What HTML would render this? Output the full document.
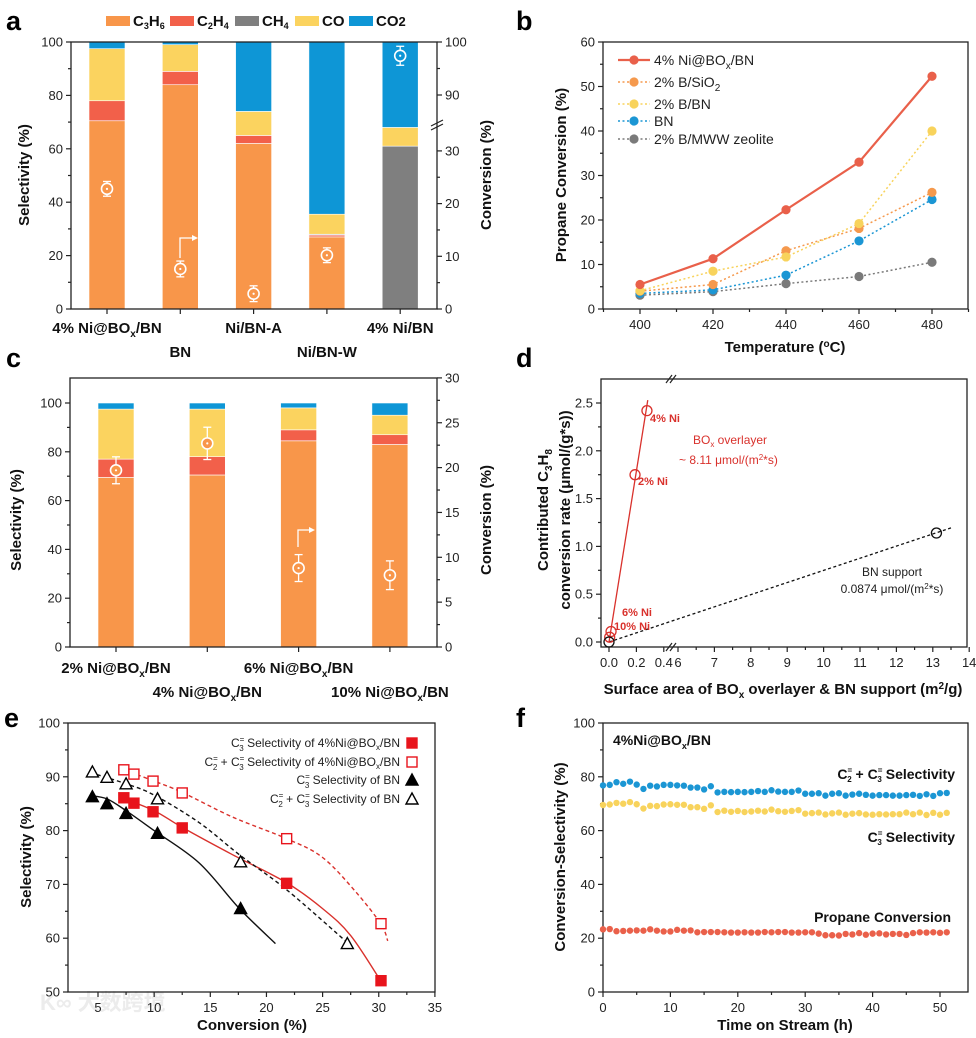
<!DOCTYPE html>
<html><head><meta charset="utf-8"><style>
html,body{margin:0;padding:0;background:#fff;}
svg{display:block;font-family:"Liberation Sans","Noto Sans CJK SC",sans-serif;}
.t{font-size:13px;fill:#222;}
.b{font-weight:bold;font-size:15px;fill:#111;}
.L{font-weight:bold;font-size:27px;fill:#000;}
</style></head><body>
<svg id="fig" width="976" height="1038" viewBox="0 0 976 1038" xmlns="http://www.w3.org/2000/svg">
<text class="L" x="6" y="30">a</text>
<text class="L" x="516" y="30">b</text>
<text class="L" x="6" y="367">c</text>
<text class="L" x="516" y="367">d</text>
<text class="L" x="4" y="727">e</text>
<text class="L" x="516" y="727">f</text>
<text x="40" y="1010" style="font-size:22px;fill:#ececec;font-weight:bold">K∞ 大数跨境</text>
</svg>
<script>
// ---------- data ----------
const catsA=["4% Ni@BOx/BN","BN","Ni/BN-A","Ni/BN-W","4% Ni/BN"];
const c3h6A=[70.5,84,62,27,0];
const c2h4A=[7.5,5,3,0.7,0];
const ch4A=[0,0,0,0.3,61];
const coA=[19.5,10,9,7.5,7];
const co2A=[2.5,1,26,64.5,32];
const convA=[22.8,7.6,2.9,10.2,97.4];
const errA=[1.4,1.5,1.5,1.4,1.8];
const catsC=["2% Ni@BOx/BN","4% Ni@BOx/BN","6% Ni@BOx/BN","10% Ni@BOx/BN"];
const c3h6C=[69.5,70.5,84.5,83];
const c2h4C=[7.5,7.5,4.5,4];
const coC=[20.5,19.5,9,8];
const co2C=[2.5,2.5,2,5];
const convC=[19.7,22.7,8.8,8.0];
const errC=[1.5,1.8,1.5,1.6];
const tempsB=[400,420,440,460,480];
const niB=[5.5,11.3,22.3,33,52.3];
const bsio2B=[4,5.5,13.1,18.1,26.2];
const bbnB=[4.1,8.5,11.7,19.2,40];
const bnB=[3.5,4.3,7.6,15.3,24.6];
const mwwB=[3.1,3.9,5.7,7.3,10.5];
const redPtsDx=[0.277,0.19,0.015,0.005];
const redPtsDy=[2.42,1.75,0.11,0.05];
const redLineDx=[0,0.283];
const redLineDy=[0,2.53];
const blkPtsDx=[0,13.1];
const blkPtsDy=[0,1.14];
const blkLineDx=[0,13.55];
const blkLineDy=[0,1.2];
const e1x=[7.3,8.2,9.9,12.5,21.8,30.2], e1y=[86.1,85.1,83.5,80.5,70.2,52.1];
const e2x=[7.3,8.2,9.9,12.5,21.8,30.2], e2y=[91.3,90.5,89.2,87,78.5,62.7];
const e3x=[4.5,5.8,7.5,10.3,17.7], e3y=[86.3,85,83.2,79.5,65.5];
const e4x=[4.5,5.8,7.5,10.3,17.7,27.2], e4y=[90.9,89.9,88.7,85.9,74.2,59];
const f1x=[7,10,12.5,17,21.8,25,27.5,30.2], f1y=[86.2,83.7,80.6,75.5,70.3,65.5,60.5,52];
const f2x=[7.3,10,12.5,17,21.8,25,28,30.2,30.8], f2y=[91.3,89.2,87.1,82.5,78.5,75,68.5,62.6,59.5];
const f3x=[4.3,5.8,7.5,10,14,17.6,20.8], f3y=[86.5,85.9,83.7,80,74,65.5,59];
const f4x=[4.3,7.5,10,14,17.6,21.8,27.3], f4y=[90.8,88.7,86.6,81.5,75.5,69,59];
const timeF=[0,1,2,3,4,5,6,7,8,9,10,11,12,13,14,15,16,17,18,19,20,21,22,23,24,25,26,27,28,29,30,31,32,33,34,35,36,37,38,39,40,41,42,43,44,45,46,47,48,49,50,51];
const selC2C3=[76.8,77,78,77.4,78.2,77.1,75.5,76.7,76.4,77,77,76.8,76.7,76,76,75.3,76.5,74.2,74.4,74.3,74.4,74.3,74.4,74.7,74.4,75,74.5,74.4,74.4,74.9,73.7,73.7,73.9,73,73.7,73.9,73,73.4,73.7,73.3,73,73.2,73.2,73,73,73.2,73.3,72.9,73.5,72.9,73.9,74];
const selC3=[69.5,69.7,70.3,70,70.6,69.8,68.2,69.2,69.1,69.7,69.8,69.6,69.6,68.7,68.7,68.1,69.4,66.9,67.4,67,67.3,66.9,67.1,67.4,67.1,67.8,67.2,67,67.3,67.6,66.3,66.5,66.7,66,66.4,66.7,65.9,66.3,66.5,66,65.9,66.1,66,66.1,66.1,66.7,66.1,66.7,65.8,66.6,65.9,66.6];
const convF=[23.3,23.4,22.6,22.7,22.8,22.9,22.8,23.3,22.8,22.5,22.5,23.1,22.8,22.9,22.2,22.3,22.3,22.3,22.2,22.1,22.1,22.2,22.1,22.1,22.3,22.2,22.3,22.3,22.1,22.1,22.2,22.2,21.7,21.1,21.1,21,21.6,21.4,21.9,21.3,21.7,21.8,21.4,21.6,21.6,21.2,21.9,22.2,22.1,22.2,22.0,22.2];

// ---------- scales ----------
const ya=v=>309-v*2.67;
const yca=v=>v<=50?309-v*5.27:42+(100-v)*5.3;
const xa=i=>107+i*73.3;
const yc=v=>647-v*2.44;
const ycc=v=>647-v*8.97;
const xc=i=>116+i*91.3;
const xb=t=>640+(t-400)*3.65;
const yb=v=>309-v*4.45;
const xd=v=>v<1?609+v*137:678+(v-6)*36.4;
const yd=v=>642-v*95.6;
const xe=v=>98+(v-5)*11.23;
const ye=v=>992-(v-50)*5.38;
const xf=v=>603+v*6.74;
const yf=v=>992-v*2.69;

const NS="http://www.w3.org/2000/svg";
const svg=document.getElementById('fig');
function mk(tag,attrs,txt){const e=document.createElementNS(NS,tag);for(const k in attrs)e.setAttribute(k,attrs[k]);if(txt!==undefined)e.textContent=txt;svg.appendChild(e);return e;}
const COL={c3h6:"#f8964a",c2h4:"#f2604a",ch4:"#7f7f7f",co:"#fbd35f",co2:"#0e96d6"};

function frame(x0,y0,x1,y1,name){
  let e=mk('rect',{x:x0,y:y0,width:x1-x0,height:y1-y0,fill:'none',stroke:'#222','stroke-width':1.3});
  
  
}
function ytick(x,y,label,side,name,len){
  len=len||5;
  const dx=side==='L'?-len:len;
  let l=mk('line',{x1:x,y1:y,x2:x+dx,y2:y,stroke:'#222','stroke-width':1.2});
  
  
  if(label!==null){
    let t=mk('text',{class:'t',x:side==='L'?x-8:x+8,y:y+4.5,'text-anchor':side==='L'?'end':'start'},label);
    
    
  }
}
function xtick(x,y,label,name,len){
  len=len||5;
  let l=mk('line',{x1:x,y1:y,x2:x,y2:y+len,stroke:'#222','stroke-width':1.2});
  
  
  if(label!==null){
    let t=mk('text',{class:'t',x:x,y:y+20,'text-anchor':'middle'},label);
    
    
  }
}
function vtitle(x,y,txt,name){
  let t=mk('text',{class:'b',x:x,y:y,'text-anchor':'middle',transform:`rotate(-90 ${x} ${y})`});
  t.innerHTML=txt;
  
  
  return t;
}
function htitle(x,y,txt,name,cls){
  let t=mk('text',{class:cls||'b',x:x,y:y,'text-anchor':'middle'});
  t.innerHTML=txt;
  
  
  return t;
}
function convMarker(x,y,err,scale,name,fill){
  let g=mk('g',{});
  
  
  const y1=y-err*scale, y2=y+err*scale;
  [{x1:x,y1:y1,x2:x,y2:y2},{x1:x-4,y1:y1,x2:x+4,y2:y1},{x1:x-4,y1:y2,x2:x+4,y2:y2}].forEach(a=>{const e=document.createElementNS(NS,'line');for(const k in a)e.setAttribute(k,a[k]);e.setAttribute('stroke','#fff');e.setAttribute('stroke-width',1.3);g.appendChild(e);});
  const ci=document.createElementNS(NS,'circle');ci.setAttribute('cx',x);ci.setAttribute('cy',y);ci.setAttribute('r',5.5);ci.setAttribute('fill',fill||'#f8964a');ci.setAttribute('stroke','#fff');ci.setAttribute('stroke-width',1.6);g.appendChild(ci);
  const d=document.createElementNS(NS,'circle');d.setAttribute('cx',x);d.setAttribute('cy',y);d.setAttribute('r',1.1);d.setAttribute('fill','#fff');g.appendChild(d);
}

// ---------- panel a ----------
(function(){
  const keys=[["c3h6",c3h6A],["c2h4",c2h4A],["ch4",ch4A],["co",coA],["co2",co2A]];
  catsA.forEach((c,i)=>{
    let base=0;
    keys.forEach(([k,arr])=>{
      const v=arr[i]; if(v<=0)return;
      let r=mk('rect',{x:xa(i)-18,y:ya(base+v),width:36,height:ya(base)-ya(base+v),fill:COL[k],stroke:'#fff','stroke-width':0.6});
      
      
      base+=v;
    });
  });
  catsA.forEach((c,i)=>{
    convMarker(xa(i),yca(convA[i]),errA[i],5.27,'conversion-marker-a-'+i,i===4?COL.co2:COL.c3h6);
  });
  let ar=mk('path',{d:'M180 258 V238 H194',fill:'none',stroke:'#fff','stroke-width':1.3});
  
  
  let ah=mk('path',{d:'M192 235 L198 238 L192 241 Z',fill:'#fff'});
  
  
  frame(71,42,437,309,'plot-frame-a');
  [0,20,40,60,80,100].forEach(v=>ytick(71,ya(v),String(v),'L','y-axis-a'));
  [10,30,50,70,90].forEach(v=>ytick(71,ya(v),null,'L','y-minor-a',3));
  [0,10,20,30].forEach(v=>ytick(437,yca(v),String(v),'R','y2-axis-a'));
  [90,100].forEach(v=>ytick(437,yca(v),String(v),'R','y2-axis-a'));
  [5,15,25,95].forEach(v=>ytick(437,yca(v),null,'R','y2-minor-a',3));
  let bk=mk('path',{d:'M431 126 L443 120 M431 130 L443 124',stroke:'#222','stroke-width':1.2});
  
  
  catsA.forEach((c,i)=>xtick(xa(i),309,null,'x-axis-a'));
  const lab=['4% Ni@BO<tspan font-size="10" dy="4">x</tspan><tspan dy="-4">/BN</tspan>','BN','Ni/BN-A','Ni/BN-W','4% Ni/BN'];
  lab.forEach((t,i)=>htitle(xa(i),i%2===0?333:357,t,'x-label-a-'+i));
  vtitle(29,175,'Selectivity (%)','y-axis-title-a');
  vtitle(491,175,'Conversion (%)','y2-axis-title-a');
  const lg=[["c3h6",106,'C<tspan font-size="9" dy="3">3</tspan><tspan dy="-3">H</tspan><tspan font-size="9" dy="3">6</tspan>'],["c2h4",170,'C<tspan font-size="9" dy="3">2</tspan><tspan dy="-3">H</tspan><tspan font-size="9" dy="3">4</tspan>'],["ch4",235,'CH<tspan font-size="9" dy="3">4</tspan>'],["co",295,'CO'],["co2",349,'CO<tspan font-size="13">2</tspan>']];
  lg.forEach(([k,x,t])=>{
    let s=mk('rect',{x:x,y:16,width:24,height:10,fill:COL[k]});
    
    
    let tx=mk('text',{class:'b',x:x+27,y:26,'font-size':'15'});
    tx.innerHTML=t;
    
    
  });
})();

// ---------- panel b ----------
(function(){
  frame(603,42,968,309,'plot-frame-b');
  [0,10,20,30,40,50,60].forEach(v=>ytick(603,yb(v),String(v),'L','y-axis-b'));
  [5,15,25,35,45,55].forEach(v=>ytick(603,yb(v),null,'L','y-minor-b',3));
  tempsB.forEach(t=>xtick(xb(t),309,String(t),'x-axis-b'));
  [390,410,430,450,470,490].forEach(t=>xtick(xb(t),309,null,'x-minor-b',3));
  const ser=[["mww",mwwB,"#7a7a7a",true],["bn",bnB,"#1b96d4",true],["bsio2",bsio2B,"#f5994d",true],["bbn",bbnB,"#f8d35c",true],["ni",niB,"#e9604a",false]];
  ser.forEach(([n,arr,col,dot])=>{
    let p=mk('polyline',{points:tempsB.map((t,i)=>xb(t)+','+yb(arr[i])).join(' '),fill:'none',stroke:col,'stroke-width':dot?1.5:2.2,'stroke-dasharray':dot?'2 2.5':'none'});
    
    
    tempsB.forEach((t,i)=>{
      let c=mk('circle',{cx:xb(t),cy:yb(arr[i]),r:4.6,fill:col});
      
      
    });
  });
  const lg=[["ni","#e9604a",false,'4% Ni@BO<tspan font-size="10" dy="4">x</tspan><tspan dy="-4">/BN</tspan>',60],["bsio2","#f5994d",true,'2% B/SiO<tspan font-size="10" dy="4">2</tspan>',82],["bbn","#f8d35c",true,'2% B/BN',104],["bn","#1b96d4",true,'BN',121],["mww","#7a7a7a",true,'2% B/MWW zeolite',139]];
  lg.forEach(([n,col,dot,t,y])=>{
    let l=mk('line',{x1:618,y1:y,x2:650,y2:y,stroke:col,'stroke-width':dot?1.5:2.2,'stroke-dasharray':dot?'2 2.5':'none'});
    
    
    let c=mk('circle',{cx:634,cy:y,r:4.6,fill:col});
    
    
    let tx=mk('text',{x:654,y:y+5,'font-size':'14',fill:'#222'});
    tx.innerHTML=t;
    
    
  });
  vtitle(566,175,'Propane Conversion (%)','y-axis-title-b');
  htitle(785,352,'Temperature (<tspan font-size="10" dy="-5">o</tspan><tspan dy="5">C)</tspan>','x-axis-title-b');
})();

// ---------- panel c ----------
(function(){
  const keys=[["c3h6",c3h6C],["c2h4",c2h4C],["co",coC],["co2",co2C]];
  catsC.forEach((c,i)=>{
    let base=0;
    keys.forEach(([k,arr])=>{
      const v=arr[i];
      let r=mk('rect',{x:xc(i)-18,y:yc(base+v),width:36,height:yc(base)-yc(base+v),fill:COL[k],stroke:'#fff','stroke-width':0.6});
      
      
      base+=v;
    });
  });
  catsC.forEach((c,i)=>convMarker(xc(i),ycc(convC[i]),errC[i],8.97,'conversion-marker-c-'+i));
  let ar=mk('path',{d:'M298 547 V530 H310',fill:'none',stroke:'#fff','stroke-width':1.3});
  
  
  let ah=mk('path',{d:'M309 527 L315 530 L309 533 Z',fill:'#fff'});
  
  
  frame(70,378,437,647,'plot-frame-c');
  [0,20,40,60,80,100].forEach(v=>ytick(70,yc(v),String(v),'L','y-axis-c'));
  [10,30,50,70,90].forEach(v=>ytick(70,yc(v),null,'L','y-minor-c',3));
  [0,5,10,15,20,25,30].forEach(v=>ytick(437,ycc(v),String(v),'R','y2-axis-c'));
  [2.5,7.5,12.5,17.5,22.5,27.5].forEach(v=>ytick(437,ycc(v),null,'R','y2-minor-c',3));
  catsC.forEach((c,i)=>xtick(xc(i),647,null,'x-axis-c'));
  catsC.forEach((c,i)=>{
    const [p,s]=c.split('BOx');
    htitle(xc(i),i%2===0?673:697,p+'BO<tspan font-size="10" dy="4">x</tspan><tspan dy="-4">'+s+'</tspan>','x-label-c-'+i);
  });
  vtitle(21,520,'Selectivity (%)','y-axis-title-c');
  vtitle(491,520,'Conversion (%)','y2-axis-title-c');
})();

// ---------- panel d ----------
(function(){
  frame(601,379,967,647,'plot-frame-d');
  [0,0.5,1.0,1.5,2.0,2.5].forEach(v=>ytick(601,yd(v),v.toFixed(1),'L','y-axis-d'));
  [0.25,0.75,1.25,1.75,2.25].forEach(v=>ytick(601,yd(v),null,'L','y-minor-d',3));
  [0,0.2,0.4].forEach(v=>xtick(xd(v),647,v.toFixed(1),'x-axis-d'));
  [6,7,8,9,10,11,12,13,14].forEach(v=>xtick(xd(v),647,String(v),'x-axis-d'));
  [6.5,7.5,8.5,9.5,10.5,11.5,12.5,13.5].forEach(v=>xtick(xd(v),647,null,'x-minor-d',3));
  let bk=mk('path',{d:'M666 383 L672 375 M670 383 L676 375 M666 651 L672 643 M670 651 L676 643',stroke:'#222','stroke-width':1.2});
  
  
  let bl=mk('line',{x1:xd(blkLineDx[0]),y1:yd(blkLineDy[0]),x2:xd(blkLineDx[1]),y2:yd(blkLineDy[1]),stroke:'#111','stroke-width':1.3,'stroke-dasharray':'3 2.5'});
  
  
  let rl=mk('line',{x1:xd(redLineDx[0]),y1:yd(redLineDy[0]),x2:xd(redLineDx[1]),y2:yd(redLineDy[1]),stroke:'#d9312c','stroke-width':1.3});
  
  
  redPtsDx.forEach((x,i)=>{
    let c=mk('circle',{cx:xd(x),cy:yd(redPtsDy[i]),r:5,fill:'none',stroke:'#d9312c','stroke-width':1.3});
    
    
  });
  blkPtsDx.forEach((x,i)=>{
    let c=mk('circle',{cx:xd(x),cy:yd(blkPtsDy[i]),r:5,fill:'none',stroke:'#111','stroke-width':1.3});
    
    
  });
  const ann=[[650,422,'4% Ni','bold',11,'annotation-4ni'],[638,485,'2% Ni','bold',11,'annotation-2ni'],[622,616,'6% Ni','bold',11,'annotation-6ni'],[614,630,'10% Ni','bold',11,'annotation-10ni']];
  ann.forEach(([x,y,t,w,s,n])=>{
    let e=mk('text',{x:x,y:y,'font-size':s,'font-weight':w,fill:'#d9312c'},t);
    
    
  });
  let a1=mk('text',{x:693,y:444,'font-size':12,fill:'#d9312c'});
  a1.innerHTML='BO<tspan font-size="8" dy="3">x</tspan><tspan dy="-3"> overlayer</tspan>';
  
  
  let a2=mk('text',{x:679,y:464,'font-size':12,fill:'#d9312c'});
  a2.innerHTML='~ 8.11 μmol/(m<tspan font-size="8" dy="-4">2</tspan><tspan dy="4">*s)</tspan>';
  
  
  let a3=mk('text',{x:892,y:576,'font-size':12,fill:'#222','text-anchor':'middle'},'BN support');
  
  
  let a4=mk('text',{x:892,y:593,'font-size':12,fill:'#222','text-anchor':'middle'});
  a4.innerHTML='0.0874 μmol/(m<tspan font-size="8" dy="-4">2</tspan><tspan dy="4">*s)</tspan>';
  
  
  vtitle(548,510,'Contributed C<tspan font-size="10" dy="4">3</tspan><tspan dy="-4">H</tspan><tspan font-size="10" dy="4">8</tspan>','y-axis-title-d-line1');
  vtitle(570,510,'conversion rate (μmol/(g*s))','y-axis-title-d-line2');
  htitle(783,694,'Surface area of BO<tspan font-size="10" dy="4">x</tspan><tspan dy="-4"> overlayer &amp; BN support (m</tspan><tspan font-size="10" dy="-5">2</tspan><tspan dy="5">/g)</tspan>','x-axis-title-d');
})();

// ---------- panel e ----------
(function(){
  frame(68,723,435,992,'plot-frame-e');
  [50,60,70,80,90,100].forEach(v=>ytick(68,ye(v),String(v),'L','y-axis-e'));
  [55,65,75,85,95].forEach(v=>ytick(68,ye(v),null,'L','y-minor-e',3));
  [5,10,15,20,25,30,35].forEach(v=>xtick(xe(v),992,String(v),'x-axis-e'));
  [7.5,12.5,17.5,22.5,27.5,32.5].forEach(v=>xtick(xe(v),992,null,'x-minor-e',3));
  function smooth(xs,ys){
    const P=xs.map((x,i)=>[xe(x),ye(ys[i])]);
    let d='M'+P[0][0]+' '+P[0][1];
    for(let i=0;i<P.length-1;i++){
      const p0=P[i-1]||P[i],p1=P[i],p2=P[i+1],p3=P[i+2]||P[i+1];
      const c1=[p1[0]+(p2[0]-p0[0])/6,p1[1]+(p2[1]-p0[1])/6];
      const c2=[p2[0]-(p3[0]-p1[0])/6,p2[1]-(p3[1]-p1[1])/6];
      d+=` C${c1[0]} ${c1[1]} ${c2[0]} ${c2[1]} ${p2[0]} ${p2[1]}`;
    }
    return d;
  }
  const fits=[[f1x,f1y,'#d9312c','none','fit-curve-c3-ni'],[f2x,f2y,'#d9312c','4 3','fit-curve-c2c3-ni'],[f3x,f3y,'#111','none','fit-curve-c3-bn'],[f4x,f4y,'#111','4 3','fit-curve-c2c3-bn']];
  fits.forEach(([xs,ys,col,da,n])=>{
    let p=mk('path',{d:smooth(xs,ys),fill:'none',stroke:col,'stroke-width':1.4,'stroke-dasharray':da});
    
    
  });
  function sq(x,y,fill,n){let r=mk('rect',{x:x-5,y:y-5,width:10,height:10,fill:fill?'#e8141c':'#fff',stroke:'#e8141c','stroke-width':1.4});}
  function tri(x,y,fill,n){let p=mk('path',{d:`M${x} ${y-6} L${x+6} ${y+5} L${x-6} ${y+5} Z`,fill:fill?'#000':'#fff',stroke:'#000','stroke-width':1.4});}
  e1x.forEach((x,i)=>sq(xe(x),ye(e1y[i]),true,'point-c3-ni'));
  e2x.forEach((x,i)=>sq(xe(x),ye(e2y[i]),false,'point-c2c3-ni'));
  e3x.forEach((x,i)=>tri(xe(x),ye(e3y[i]),true,'point-c3-bn'));
  e4x.forEach((x,i)=>tri(xe(x),ye(e4y[i]),false,'point-c2c3-bn'));
  const sub=(a,b)=>`${a}<tspan font-size="8" dy="-5">=</tspan><tspan font-size="8" dx="-5" dy="9">${b}</tspan><tspan dy="-4"> </tspan>`;
  const lg=[[743,sub('C','3')+' Selectivity of  4%Ni@BO<tspan font-size="8" dy="3">x</tspan><tspan dy="-3">/BN</tspan>','sq',true],[762,sub('C','2')+'+ '+sub('C','3')+' Selectivity of 4%Ni@BO<tspan font-size="8" dy="3">x</tspan><tspan dy="-3">/BN</tspan>','sq',false],[780,sub('C','3')+' Selectivity of BN','tri',true],[799,sub('C','2')+'+ '+sub('C','3')+'  Selectivity of BN','tri',false]];
  lg.forEach(([y,t,m,f],i)=>{
    let tx=mk('text',{x:400,y:y+4,'font-size':12,fill:'#222','text-anchor':'end'});
    tx.innerHTML=t;
    
    
    if(m==='sq')sq(412,y,f,'legend-marker-e-'+i);else tri(412,y,f,'legend-marker-e-'+i);
  });
  vtitle(31,857,'Selectivity (%)','y-axis-title-e');
  htitle(252,1030,'Conversion (%)','x-axis-title-e');
})();

// ---------- panel f ----------
(function(){
  frame(603,723,968,992,'plot-frame-f');
  [0,20,40,60,80,100].forEach(v=>ytick(603,yf(v),String(v),'L','y-axis-f'));
  [10,30,50,70,90].forEach(v=>ytick(603,yf(v),null,'L','y-minor-f',3));
  [0,10,20,30,40,50].forEach(v=>xtick(xf(v),992,String(v),'x-axis-f'));
  [5,15,25,35,45].forEach(v=>xtick(xf(v),992,null,'x-minor-f',3));
  const ser=[[selC2C3,'#1b96d4','c2c3-selectivity'],[selC3,'#f8d35c','c3-selectivity'],[convF,'#ea604a','propane-conversion']];
  ser.forEach(([arr,col,n])=>{
    timeF.forEach((t,i)=>{
      let c=mk('circle',{cx:xf(t),cy:yf(arr[i]),r:3.2,fill:col});
      
      
    });
  });
  let t1=mk('text',{x:613,y:745,'font-size':14,'font-weight':'bold',fill:'#111'});
  t1.innerHTML='4%Ni@BO<tspan font-size="9" dy="4">x</tspan><tspan dy="-4">/BN</tspan>';
  
  
  let t2=mk('text',{x:955,y:779,'font-size':14,'font-weight':'bold',fill:'#111','text-anchor':'end'});
  t2.innerHTML='C<tspan font-size="8" dy="-6">=</tspan><tspan font-size="8" dx="-5" dy="9">2</tspan><tspan dy="-3"> + C</tspan><tspan font-size="8" dy="-6">=</tspan><tspan font-size="8" dx="-5" dy="9">3</tspan><tspan dy="-3"> Selectivity</tspan>';
  
  
  let t3=mk('text',{x:955,y:842,'font-size':14,'font-weight':'bold',fill:'#111','text-anchor':'end'});
  t3.innerHTML='C<tspan font-size="8" dy="-6">=</tspan><tspan font-size="8" dx="-5" dy="9">3</tspan><tspan dy="-3"> Selectivity</tspan>';
  
  
  let t4=mk('text',{x:951,y:922,'font-size':14,'font-weight':'bold',fill:'#111','text-anchor':'end'},'Propane Conversion');
  
  
  vtitle(565,857,'Conversion-Selectivity (%)','y-axis-title-f');
  htitle(785,1030,'Time on Stream (h)','x-axis-title-f');
})();
</script>
</body></html>
